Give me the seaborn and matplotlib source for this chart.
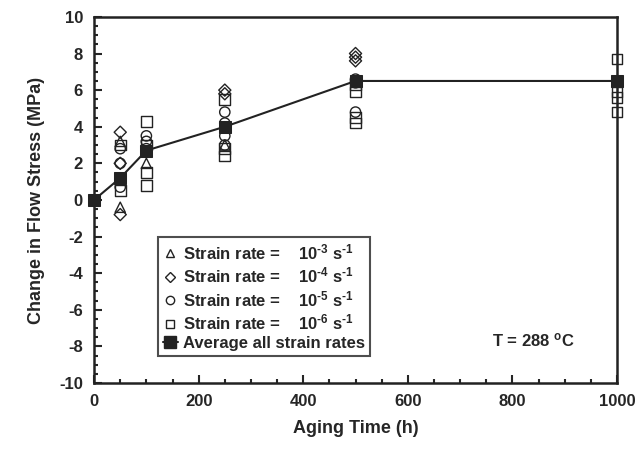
import numpy as np
import pandas as pd
import matplotlib
matplotlib.use("Agg")
import matplotlib.pyplot as plt
from matplotlib.ticker import MultipleLocator
import seaborn as sns

# aging time (h) and change in flow stress (MPa)
t_rate3 = [50, 50, 100, 250, 250]
s_rate3 = [-0.4, 3.2, 2.0, 4.0, 3.0]

t_rate4 = [50, 50, 50, 250, 250, 500, 500, 500]
s_rate4 = [3.7, 2.0, -0.8, 6.0, 5.8, 8.0, 7.8, 7.6]

t_rate5 = [50, 50, 50, 100, 100, 100, 250, 250, 250, 250, 500, 500, 500]
s_rate5 = [2.8, 2.0, 0.7, 3.5, 3.2, 2.8, 4.8, 4.2, 3.5, 3.0, 6.6, 6.4, 4.8]

t_rate6 = [50, 50, 100, 100, 100, 100, 250, 250, 250, 500, 500, 500, 500,
           1000, 1000, 1000, 1000, 1000]
s_rate6 = [3.0, 0.5, 4.3, 3.0, 1.5, 0.8, 5.5, 2.8, 2.4, 6.3, 5.9, 4.5, 4.2,
           7.7, 6.5, 5.9, 5.6, 4.8]

t_avg = [0, 50, 100, 250, 500, 1000]
s_avg = [0.0, 1.2, 2.7, 4.0, 6.5, 6.5]

rate_labels = [r"Strain rate =    10$^{\text{-}3}$ s$^{\text{-}1}$",
               r"Strain rate =    10$^{\text{-}4}$ s$^{\text{-}1}$",
               r"Strain rate =    10$^{\text{-}5}$ s$^{\text{-}1}$",
               r"Strain rate =    10$^{\text{-}6}$ s$^{\text{-}1}$"]
avg_label = "Average all strain rates"

sns.set_style("ticks")
plt.rcParams["font.family"] = ["Liberation Sans", "DejaVu Sans"]
plt.rcParams["font.weight"] = "bold"
plt.rcParams["axes.unicode_minus"] = False
plt.rcParams["mathtext.fontset"] = "custom"
plt.rcParams["mathtext.rm"] = "Liberation Sans:bold"
plt.rcParams["mathtext.it"] = "Liberation Sans:bold"
plt.rcParams["mathtext.bf"] = "Liberation Sans:bold"

fig = plt.figure(figsize=(6.4, 4.57), dpi=100)
ax = fig.add_axes([0.147, 0.162, 0.817, 0.801])

series = [(t_rate3, s_rate3, "^"), (t_rate4, s_rate4, "D"),
          (t_rate5, s_rate5, "o"), (t_rate6, s_rate6, "s")]
sizes = {"^": 55, "D": 38, "o": 55, "s": 60}
handles = []
for (t, s, m), lab in zip(series, rate_labels):
    sns.scatterplot(x=t, y=s, marker=m, s=sizes[m], facecolor="none",
                    edgecolor="#222222", linewidth=1.0, ax=ax, zorder=3,
                    clip_on=False)
    handles.append(plt.Line2D([], [], ls="none", marker=m, mfc="none",
                              mec="#222222", ms=6 if m != "D" else 5,
                              mew=1.0, label=lab))

sns.lineplot(x=t_avg, y=s_avg, color="#222222", lw=1.5, marker="s",
             markersize=8, markerfacecolor="#222222",
             markeredgecolor="#222222", ax=ax, zorder=4, clip_on=False)
handles.append(plt.Line2D([], [], color="#222222", lw=1.5, marker="s",
                          ms=8, mfc="#222222", mec="#222222", label=avg_label))

ax.set_xlim(0, 1000)
ax.set_ylim(-10, 10)
ax.xaxis.set_major_locator(MultipleLocator(200))
ax.xaxis.set_minor_locator(MultipleLocator(50))
ax.yaxis.set_major_locator(MultipleLocator(2))
ax.yaxis.set_minor_locator(MultipleLocator(0.5))
ax.tick_params(which="both", direction="in", top=False, right=False,
               labelsize=12, width=1.5, pad=8)
ax.tick_params(which="major", length=6)
ax.tick_params(which="minor", length=3)
for sp in ax.spines.values():
    sp.set_linewidth(1.8)
    sp.set_color("#222222")

ax.set_xlabel("Aging Time (h)", fontsize=13, fontweight="bold", labelpad=8)
ax.set_ylabel("Change in Flow Stress (MPa)", fontsize=13, fontweight="bold",
              labelpad=10)

leg = ax.legend(handles=handles, loc="lower left",
                bbox_to_anchor=(0.106, 0.05), frameon=True, fancybox=False,
                edgecolor="#222222", fontsize=12, handlelength=0.9,
                handletextpad=0.3, borderpad=0.3, labelspacing=0.22)
leg.get_frame().set_linewidth(1.5)

ax.text(0.92, 0.117, r"T = 288 $^o$C", transform=ax.transAxes, ha="right",
        va="center", fontsize=12, fontweight="bold")

fig.savefig("out.png", dpi=100)
